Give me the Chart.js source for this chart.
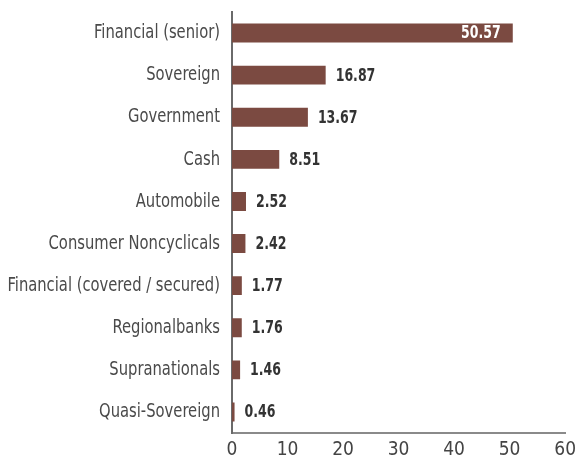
<!DOCTYPE html>
<html>
<head>
<meta charset="utf-8">
<script src="https://cdn.jsdelivr.net/npm/chart.js@4.4.1/dist/chart.umd.min.js"></script>
<style>
  html, body { margin: 0; padding: 0; background: #fff; }
  #wrap { width: 582px; height: 462px; }
</style>
</head>
<body>
<div id="wrap"><canvas id="myChart" width="582" height="462"></canvas></div>
<script>
const categories = ['Financial (senior)', 'Sovereign', 'Government', 'Cash', 'Automobile',
  'Consumer Noncyclicals', 'Financial (covered / secured)', 'Regionalbanks', 'Supranationals', 'Quasi-Sovereign'];
const weights = [50.57, 16.87, 13.67, 8.51, 2.52, 2.42, 1.77, 1.76, 1.46, 0.46];
const xTicks = [0, 10, 20, 30, 40, 50, 60];

const FONT = '"DejaVu Sans Condensed", sans-serif';
const SQUEEZE = 0.82; // the original uses a narrow face

// make the category labels narrower, anchored at their right edge
const narrowY = {
  id: 'narrowY',
  afterLayout(chart) {
    const s = chart.scales.y;
    if (s._narrowed) return;
    const orig = s.drawLabels;
    s.drawLabels = function (area) {
      const ctx = this.ctx;
      const ax = this.right - 12;
      const oldLeft = this.left;
      // widen the label clip box so it still covers the canvas after squeezing
      this.left = ax - ax / SQUEEZE;
      ctx.save();
      ctx.translate(ax, 0);
      ctx.scale(SQUEEZE, 1);
      ctx.translate(-ax, 0);
      orig.call(this, area);
      ctx.restore();
      this.left = oldLeft;
    };
    s._narrowed = true;
  }
};

// value labels next to / inside the bars
const valueLabels = {
  id: 'valueLabels',
  afterDatasetsDraw(chart) {
    const ctx = chart.ctx;
    const meta = chart.getDatasetMeta(0);
    ctx.font = 'bold 17px ' + FONT;
    ctx.textBaseline = 'middle';
    meta.data.forEach((bar, i) => {
      const txt = weights[i].toFixed(2);
      const inside = i === 0;
      const ax = inside ? bar.x - 12 : bar.x + 10;
      ctx.save();
      ctx.translate(ax, 0);
      ctx.scale(SQUEEZE, 1);
      ctx.fillStyle = inside ? '#ffffff' : '#333333';
      ctx.textAlign = inside ? 'right' : 'left';
      ctx.fillText(txt, 0, bar.y + 1);
      ctx.restore();
    });
  }
};

new Chart(document.getElementById('myChart'), {
  type: 'bar',
  data: {
    labels: categories,
    datasets: [{
      data: weights,
      backgroundColor: '#7b4a41',
      borderWidth: 0,
      barPercentage: 0.9,
      categoryPercentage: 0.5
    }]
  },
  options: {
    indexAxis: 'y',
    responsive: false,
    animation: false,
    layout: { padding: 0 },
    plugins: { legend: { display: false }, tooltip: { enabled: false } },
    scales: {
      x: {
        min: 0,
        max: 60,
        afterBuildTicks: (axis) => { axis.ticks = xTicks.map(v => ({ value: v })); },
        afterFit: (axis) => { axis.height = 29; },
        grid: { display: false, drawTicks: false },
        border: { display: true, color: '#8a8a8a', width: 2 },
        ticks: {
          color: '#444444',
          font: { family: FONT, size: 19 },
          padding: 6,
          maxRotation: 0,
          autoSkip: false
        }
      },
      y: {
        afterFit: (axis) => { axis.width = 232; },
        grid: { display: true, drawOnChartArea: false, drawTicks: true, tickLength: 12, color: 'rgba(0,0,0,0)' },
        border: { display: true, color: '#6a6a6a', width: 2 },
        ticks: {
          color: '#4a4a4a',
          font: { family: FONT, size: 20 },
          padding: 0,
          autoSkip: false
        }
      }
    }
  },
  plugins: [narrowY, valueLabels]
});
</script>
</body>
</html>
